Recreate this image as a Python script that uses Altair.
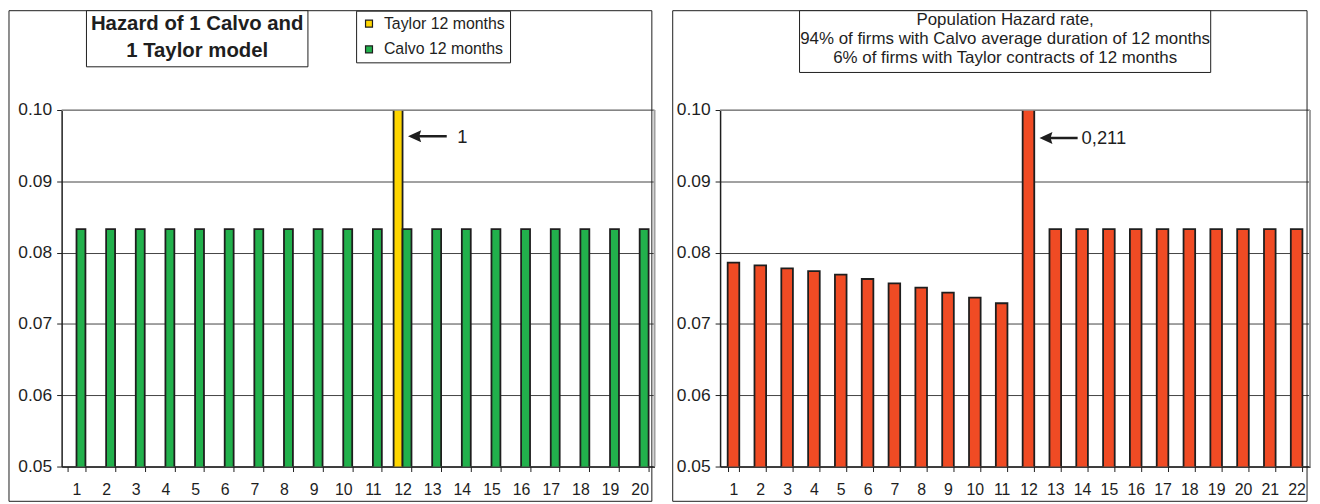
import altair as alt
import pandas as pd

# ---------------- data ----------------
months_left = list(range(1, 21))
series_names = ["Taylor 12 months", "Calvo 12 months"]
taylor_left = [0, 0, 0, 0, 0, 0, 0, 0, 0, 0, 0, 1, 0, 0, 0, 0, 0, 0, 0, 0]
calvo_left = [0.0833] * 20

months_right = list(range(1, 23))
pop_hazard = [0.0786, 0.0782, 0.0778, 0.0774, 0.0769, 0.0763, 0.0757, 0.0751,
              0.0744, 0.0737, 0.0729, 0.211, 0.0833, 0.0833, 0.0833, 0.0833,
              0.0833, 0.0833, 0.0833, 0.0833, 0.0833, 0.0833]

y_ticks = [0.05, 0.06, 0.07, 0.08, 0.09, 0.10]
left_title = ["Hazard of 1 Calvo and", "1 Taylor model"]
right_title = ["Population Hazard rate,",
               "94% of firms with Calvo average duration of 12 months",
               "6% of firms with Taylor contracts of 12 months"]
left_note_month = [12]
left_note_text = ["1"]
right_note_month = [12]
right_note_text = ["0,211"]

# ---------------- styling ----------------
FONT = "Liberation Sans"
INK = "#1e1e1e"
YELLOW = "#FFD600"
GREEN = "#22B14C"
RED = "#F04B24"
W1, W2, H = 597, 594, 359
ARROW = ("M -1 0 L -0.32 -0.31 L -0.40 -0.065 L 1 -0.065 L 1 0.065 "
         "L -0.40 0.065 L -0.32 0.31 Z")

df_left = pd.DataFrame({
    "month": months_left * 2,
    "series": [series_names[0]] * 20 + [series_names[1]] * 20,
    "value": taylor_left + calvo_left,
})
df_right = pd.DataFrame({"month": months_right, "value": pop_hazard})
dummy = pd.DataFrame({"k": [0]})


def y_enc():
    return alt.Y(
        "value:Q", title=None,
        scale=alt.Scale(domain=[0.05, 0.10], nice=False, zero=False),
        axis=alt.Axis(values=y_ticks, format=".2f", labelFontSize=17.5,
                      labelColor=INK, labelPadding=5, tickSize=5,
                      tickColor=INK, domainColor=INK, domainWidth=1.5,
                      grid=True, gridColor="#444444", gridWidth=1),
    )


def x_enc(domain, pin, pout):
    return alt.X(
        "month:O", title=None,
        scale=alt.Scale(domain=domain, paddingInner=pin, paddingOuter=pout),
        axis=alt.Axis(labelAngle=0, tickBand="extent", labelFontSize=16,
                      labelColor=INK, labelPadding=10, tickSize=5,
                      tickColor=INK, domainColor=INK, domainWidth=1.5,
                      grid=False),
    )


def frame(width, bx0, bx1, by0, by1):
    top = alt.Chart(dummy).mark_rule(color="#9a9a9a", strokeWidth=1.5).encode(
        x=alt.value(0), x2=alt.value(width), y=alt.value(0))
    right = alt.Chart(dummy).mark_rule(color="#a0a0a0", strokeWidth=2).encode(
        x=alt.value(width), y=alt.value(0), y2=alt.value(H))
    border = alt.Chart(dummy).mark_rect(
        fill="white", fillOpacity=0, stroke=INK, strokeWidth=1).encode(
        x=alt.value(bx0), x2=alt.value(bx1), y=alt.value(by0), y2=alt.value(by1))
    return [top, right, border]


# ---------------- left panel ----------------
bars_left = alt.Chart(df_left).mark_bar(
    clip=True, stroke=INK, strokeWidth=1.8).encode(
    x=x_enc(months_left, 0.397, 0.2),
    xOffset=alt.XOffset("series:N", sort=series_names,
                        scale=alt.Scale(paddingInner=0, paddingOuter=0)),
    y=y_enc(),
    color=alt.Color(
        "series:N", sort=series_names,
        scale=alt.Scale(domain=series_names, range=[YELLOW, GREEN]),
        legend=alt.Legend(
            orient="none", legendX=296.5, legendY=-100, title=None,
            strokeColor=INK, fillColor="white", padding=5,
            labelFontSize=16, labelColor=INK, labelOffset=7,
            symbolType="square", symbolSize=49, symbolStrokeColor=INK,
            symbolStrokeWidth=1.2, rowPadding=10),
    ),
)

note_left = pd.DataFrame({"month": left_note_month, "label": left_note_text})
arrow_left = alt.Chart(note_left).mark_point(
    shape=ARROW, size=1521, filled=True, color=INK, opacity=1,
    strokeWidth=0, xOffset=25).encode(x="month:O", y=alt.value(26.5))
text_left = alt.Chart(note_left).mark_text(
    align="left", baseline="middle", dx=55, fontSize=18.5, color=INK).encode(
    x="month:O", y=alt.value(27), text="label:N")

title_box_left = alt.Chart(dummy).mark_rect(
    fill="white", stroke=INK, strokeWidth=1).encode(
    x=alt.value(25), x2=alt.value(248), y=alt.value(-100), y2=alt.value(-43.5))
title_text_left = alt.Chart(dummy).mark_text(
    text=left_title, align="center", baseline="middle", fontSize=20.5,
    fontWeight="bold", lineHeight=27, color=INK).encode(
    x=alt.value(136.5), y=alt.value(-86.5))

left = alt.layer(
    bars_left, *frame(W1, -53, 594.3, -100, 394),
    title_box_left, title_text_left, arrow_left, text_left,
).properties(width=W1, height=H)

# ---------------- right panel ----------------
bars_right = alt.Chart(df_right).mark_bar(
    clip=True, stroke=INK, strokeWidth=1.8, color=RED).encode(
    x=x_enc(months_right, 0.567, 0.283),
    y=y_enc(),
)
note_right = pd.DataFrame({"month": right_note_month, "label": right_note_text})
arrow_right = alt.Chart(note_right).mark_point(
    shape=ARROW, size=1475, filled=True, color=INK, opacity=1,
    strokeWidth=0, xOffset=30.3).encode(x="month:O", y=alt.value(28.2))
text_right = alt.Chart(note_right).mark_text(
    align="left", baseline="middle", dx=53.5, fontSize=18.5, color=INK).encode(
    x="month:O", y=alt.value(28.2), text="label:N")

title_box_right = alt.Chart(dummy).mark_rect(
    fill="white", stroke=INK, strokeWidth=1).encode(
    x=alt.value(80), x2=alt.value(494), y=alt.value(-100), y2=alt.value(-37.8))
title_text_right = alt.Chart(dummy).mark_text(
    text=right_title, align="center", baseline="middle", fontSize=17,
    lineHeight=19.2, color=INK).encode(
    x=alt.value(287), y=alt.value(-91))

right = alt.layer(
    bars_right, *frame(W2, -47.7, 591, -100, 394),
    title_box_right, title_text_right, arrow_right, text_right,
).properties(width=W2, height=H)

chart = alt.hconcat(left, right, spacing=66, bounds="flush").properties(
    padding=0
).configure(font=FONT).configure_view(stroke="transparent")

chart.save("out.html", embed_options={"renderer": "svg", "actions": False})
